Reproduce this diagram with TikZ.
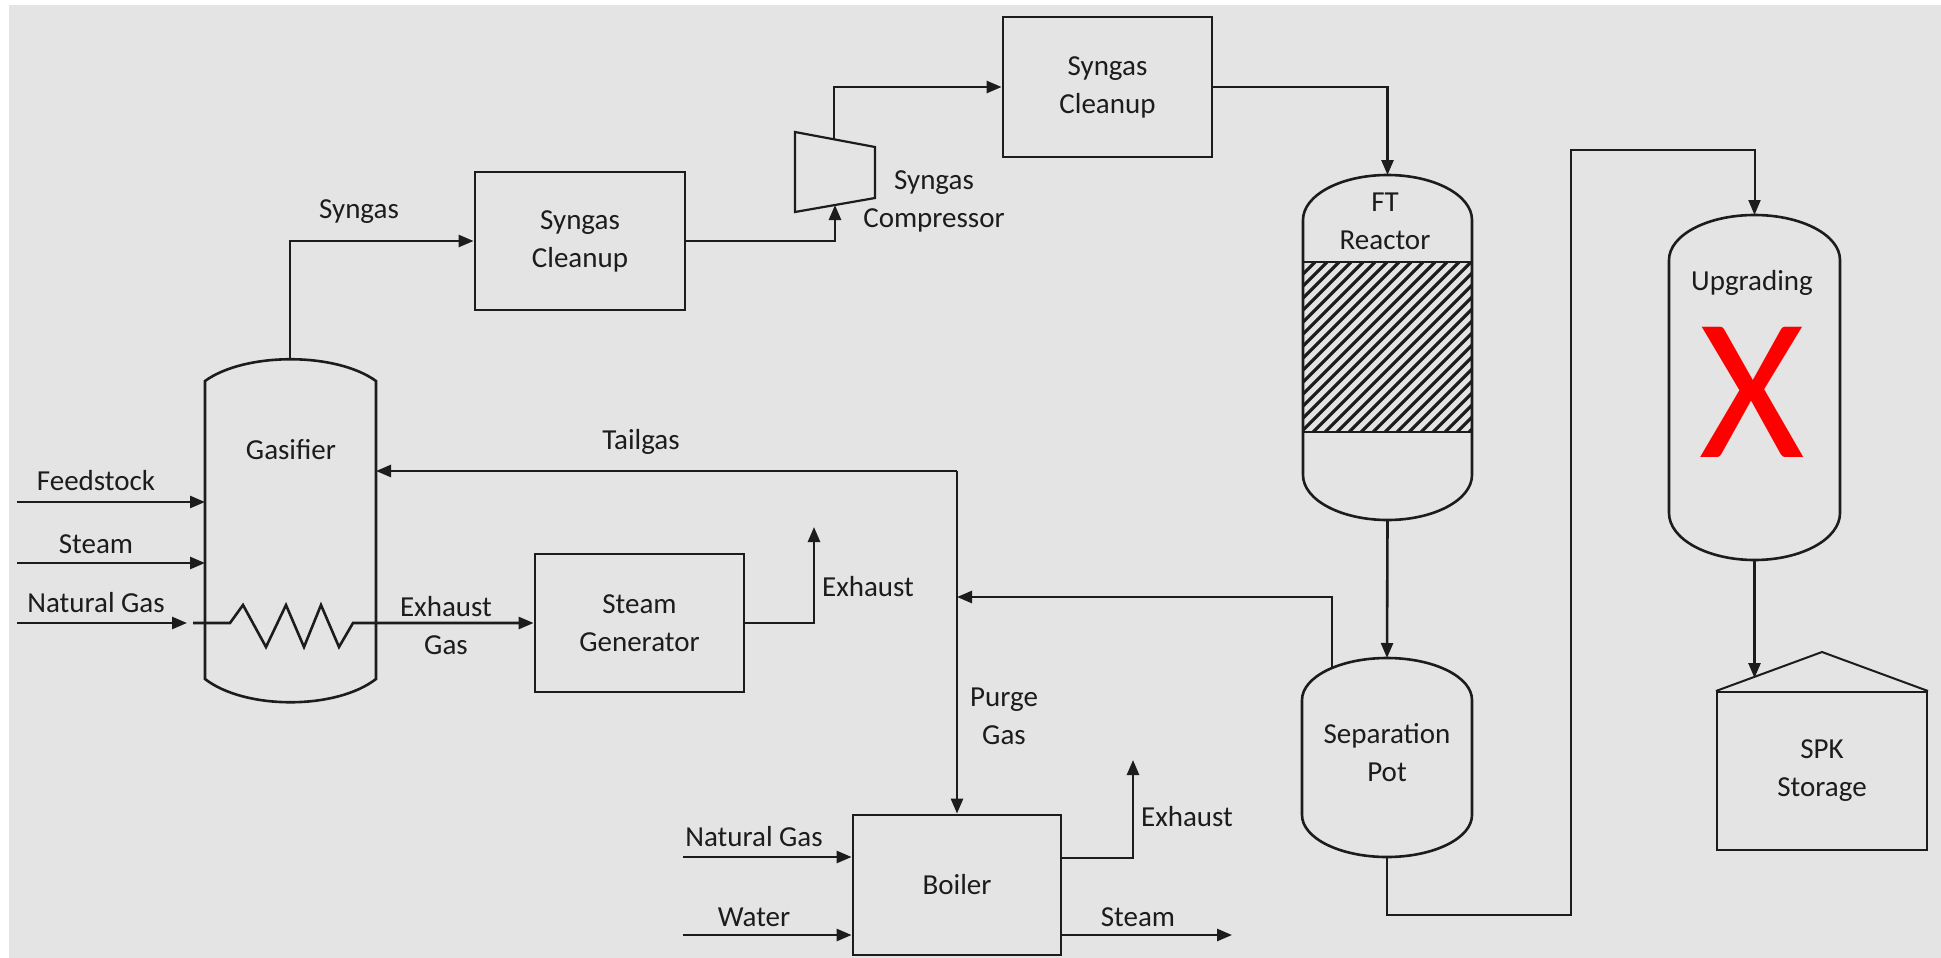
\documentclass[tikz,border=0pt]{standalone}
\usepackage{fontspec}
\setmainfont{Carlito}
\usetikzlibrary{arrows.meta}

\definecolor{bggray}{RGB}{228,228,228}
\definecolor{inkgray}{RGB}{28,28,28}
\definecolor{xred}{RGB}{255,0,0}

\newcommand{\lbl}{\fontsize{29}{38}\selectfont}

% vessel with two rounded heads: left, right, top, shoulder, lower shoulder, bottom
\newcommand{\drawdome}[6]{%
  \pgfmathsetmacro{\cx}{(#1+#2)/2}
  \pgfmathsetmacro{\kx}{0.552*(#2-#1)/2}
  \pgfmathsetmacro{\ka}{0.552*(#4-#3)}
  \pgfmathsetmacro{\kb}{0.552*(#6-#5)}
  \draw[pipe] (#1,#4) .. controls (#1,#4-\ka) and (\cx-\kx,#3) .. (\cx,#3)
    .. controls (\cx+\kx,#3) and (#2,#4-\ka) .. (#2,#4)
    -- (#2,#5) .. controls (#2,#5+\kb) and (\cx+\kx,#6) .. (\cx,#6)
    .. controls (\cx-\kx,#6) and (#1,#5+\kb) .. (#1,#5) -- cycle;}

\tikzset{
  pipe/.style={draw=inkgray, line width=2.6pt},
  flow/.style={pipe, -{Triangle[length=15pt,width=12pt]}},
  unit/.style={draw=inkgray, line width=2.8pt, minimum width=210pt, minimum height=138pt,
    align=center, inner sep=0pt, font=\lbl, text=inkgray},
  tag/.style={align=center, inner sep=0pt, font=\lbl, text=inkgray}
}

\begin{document}
\begin{tikzpicture}[x=1pt,y=-1pt]
        \useasboundingbox (0,0) rectangle (1941,958);
        \fill[white] (0,0) rectangle (1941,958);
        \fill[bggray] (9,5) rectangle (1941,958);

        % process units
        \node[unit] (clean1) at (580,241) {Syngas\\Cleanup};
        \node[unit, minimum width=209pt, minimum height=140pt] (clean2) at (1107.5,87) {Syngas\\Cleanup};
        \node[unit, minimum width=209pt] (steamgen) at (639.5,623) {Steam\\Generator};
        \node[unit, minimum width=208pt, minimum height=140pt] (boiler) at (957,885) {Boiler};
        \node[unit, line width=2pt, minimum height=158pt] (spk) at (1822,771) {SPK\\Storage};
        \coordinate (roof) at (1822,652);
        \draw[pipe, line width=2pt] (spk.north west) -- (roof) -- (spk.north east);

        % gasifier
        \draw[pipe] (205,381) .. controls (245,352) and (336,352) .. (376,381) -- (376,679)
            .. controls (336,710) and (245,710) .. (205,679) -- cycle;
        \node[tag] (gasifier) at (291,450) {Gasifier};

        % FT reactor with packed bed
        \drawdome{1303}{1472}{175}{220}{475}{520}
        \begin{scope}
            \clip (1303,262) rectangle (1472,432);
            \foreach \hx in {1121,1133,...,1480}
                \draw[inkgray, line width=3.2pt] (\hx,432) -- (\hx+170,262);
        \end{scope}
        \draw[pipe] (1303,262) -- (1472,262) (1303,432) -- (1472,432);
        \node[tag] (ftreactor) at (1385,221) {FT\\Reactor};

        \drawdome{1302}{1472}{658}{700}{815}{857}
        \node[tag] (seppot) at (1387,753) {Separation\\Pot};

        \drawdome{1669}{1840}{215}{260}{513}{560}
        \node[tag] (upgrading) at (1752,283) {Upgrading};
        \node[inner sep=0pt, text=xred, font=\fontsize{203}{203}\selectfont] (cross) at (1752,392) {X};

        % compressor
        \draw[pipe, line width=2.2pt] (795,132) -- (875,147) -- (875,198) -- (795,212) -- cycle;
        \coordinate (compin) at (835,205);
        \coordinate (compout) at (834,140);
        \node[tag] (complbl) at (934,201) {Syngas\\Compressor};

        % ports
        \coordinate (gastop) at (290,360);
        \coordinate (gaswest) at (205,532);
        \coordinate (gaseast) at (376,471);
        \coordinate (fttop) at (1387.5,175);
        \coordinate (ftbot) at (1387.5,520);
        \coordinate (septop) at (1387,658);
        \coordinate (sepbot) at (1387,857);
        \coordinate (sepport) at (1332,668);
        \coordinate (upgtop) at (1754.5,215);
        \coordinate (upgbot) at (1754.5,560);
        \coordinate (spkin) at (1754.5,678);
        \coordinate (tailjoin) at (957,471);
        \coordinate (purgejoin) at (957,597);
        \coordinate (loopa) at (1571,915);
        \coordinate (loopb) at (1571,150);
        \coordinate (feedsrc) at (17,502);
        \coordinate (steamsrc) at (17,563);
        \coordinate (ngsrc) at (17,623);
        \coordinate (coilin) at (193,623);
        \coordinate (sgexh) at (814,527);
        \coordinate (bngsrc) at (683,857);
        \coordinate (bwsrc) at (683,935);
        \coordinate (bexh) at (1133,760);
        \coordinate (bsteam) at (1232,935);

        % syngas train
        \draw[flow] (gastop) |- (clean1.west);
        \draw[flow] (clean1.east) -| (compin);
        \draw[flow] (compout) |- (clean2.west);
        \draw[flow] (clean2.east) -| (fttop);
        \draw[flow] (ftbot) -- (septop);
        \draw[flow] (sepport) |- (purgejoin);
        \draw[flow] (tailjoin) -- (gaseast);
        \draw[flow] (tailjoin) -- (boiler.north);
        \draw[flow, line width=2pt] (sepbot) |- (loopa) -- (loopb) -| (upgtop);
        \draw[flow] (upgbot) -- (spkin);

        % gasifier feeds and coil
        \draw[flow] (feedsrc) -- (feedsrc -| gaswest);
        \draw[flow] (steamsrc) -- (steamsrc -| gaswest);
        \draw[flow] (ngsrc) -- (187,623);
        \draw[flow] (coilin) -- (230,623) -- (243,605) -- (266,647) -- (286,605) -- (304,647)
            -- (321,605) -- (339,647) -- (353,623) -- (steamgen.west);
        \draw[flow] (steamgen.east) -| (sgexh);

        % boiler
        \draw[flow] (bngsrc) -- ([yshift=28pt]boiler.west);
        \draw[flow] (bwsrc) -- ([yshift=-50pt]boiler.west);
        \draw[flow] ([yshift=27pt]boiler.east) -| (bexh);
        \draw[flow] ([yshift=-50pt]boiler.east) -- (bsteam);

        % stream labels
        \node[tag] (syngaslbl) at (359,212) {Syngas};
        \node[tag] (taillbl) at (641,442) {Tailgas};
        \node[tag] (feedlbl) at (96,481) {Feedstock};
        \node[tag] (steamlbl) at (96,544) {Steam};
        \node[tag] (nglbl) at (96,603) {Natural Gas};
        \node[tag] (exgaslbl) at (446,626) {Exhaust\\Gas};
        \node[tag] (exhlbl) at (868,587) {Exhaust};
        \node[tag] (purgelbl) at (1004,716) {Purge\\Gas};
        \node[tag] (bnglbl) at (754,837) {Natural Gas};
        \node[tag] (waterlbl) at (754,917) {Water};
        \node[tag] (bexhlbl) at (1187,817) {Exhaust};
        \node[tag] (bsteamlbl) at (1138,917) {Steam};
    \end{tikzpicture}
\end{document}
